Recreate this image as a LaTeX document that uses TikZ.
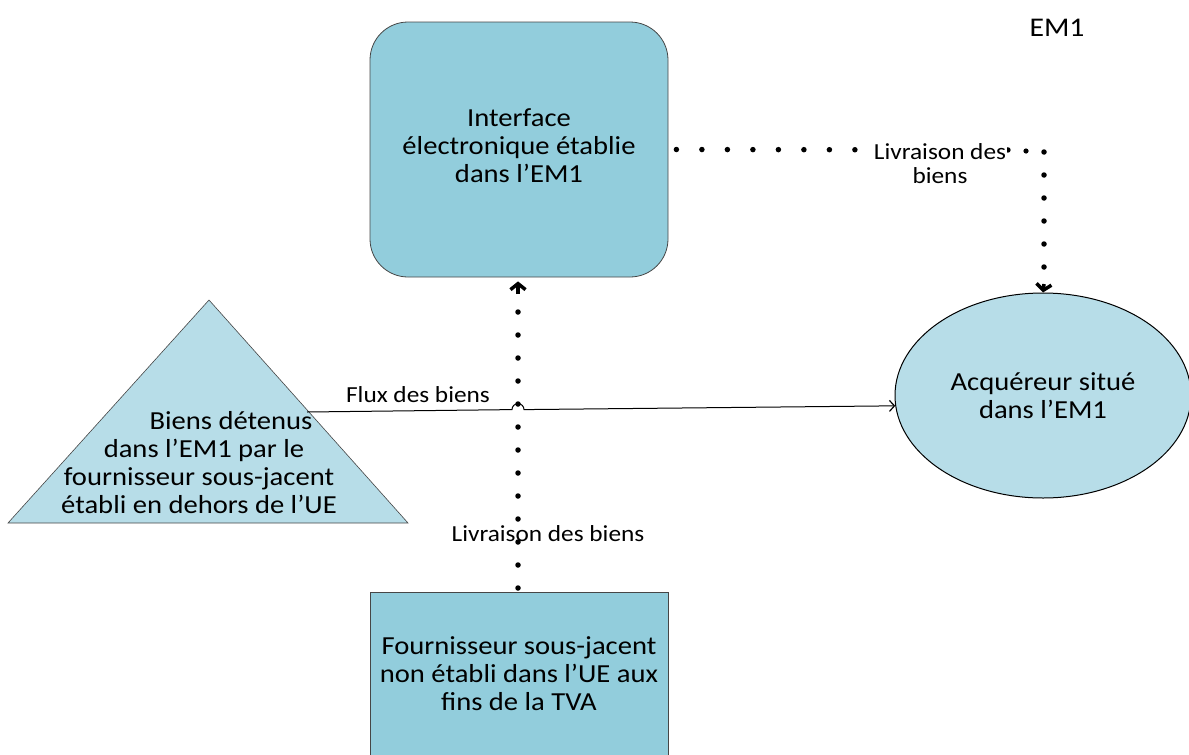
\documentclass[tikz,border=0pt]{standalone}
\usepackage{fontspec}
\setmainfont{Carlito}[FakeStretch=1.1]
\usetikzlibrary{arrows.meta,shapes.geometric}
\definecolor{boxblue}{RGB}{146,205,220}
\definecolor{lightblue}{RGB}{183,221,232}
\definecolor{edgegrey}{RGB}{70,70,70}
\begin{document}
\begin{tikzpicture}[x=1pt,y=-1pt,
  bigtext/.style={font=\fontsize{26}{28}\selectfont, align=center, text=black},
  smalltext/.style={font=\fontsize{23}{24}\selectfont, align=center, text=black},
  dotline/.style={line width=5.5pt, line cap=round, dash pattern=on 0pt off 25.5pt},
  vdotline/.style={line width=5.5pt, line cap=round, dash pattern=on 0pt off 23pt},
  barb/.style={line width=3.5pt, -{Straight Barb[length=6pt,width=15pt]}},
]
\useasboundingbox (0,0) rectangle (1189,755);

% top rounded box
\node[draw=edgegrey, line width=0.8pt, fill=boxblue, rounded corners=38pt,
      minimum width=298pt, minimum height=255pt, inner sep=0pt] (iface) at (519,149.5) {};
\node[bigtext] (ifacetxt) at (519,146) {Interface\\électronique établie\\dans l’EM1};

% bottom box
\node[draw=edgegrey, line width=0.8pt, fill=boxblue,
      minimum width=298pt, minimum height=200pt, inner sep=0pt, anchor=north] (supp) at (519,592) {};
\node[bigtext] (supptxt) at (519,674) {Fournisseur sous-jacent\\non établi dans l’UE aux\\fins de la TVA};

% triangle
\coordinate (tA) at (209,300);
\coordinate (tB) at (8,523);
\coordinate (tC) at (408,523);
\draw[draw=edgegrey, line width=0.6pt, fill=lightblue] (tA) -- (tB) -- (tC) -- cycle;
\node[bigtext] (tritxt) at (199,463) {\hspace*{64pt}Biens détenus\\\hspace*{10pt}dans l’EM1 par le\\fournisseur sous-jacent\\établi en dehors de l’UE};
\coordinate (fluxstart) at (307,412);

% ellipse
\node[draw=black, line width=1pt, fill=lightblue, ellipse, minimum width=296pt, minimum height=205pt, inner sep=0pt] (acq) at (1043,395.5) {};
\node[bigtext] (acqtxt) at (1043,396) {Acquéreur situé\\dans l’EM1};

% EM1 label
\node[font=\fontsize{27}{28}\selectfont] (em) at (1057,28) {EM1};

% flux arrow with hop
\coordinate (hopL) at (512,409.6);
\draw[line width=1pt, -{Straight Barb[length=5pt,width=11pt,line width=1.2pt]}]
  (fluxstart) -- (hopL) arc[start angle=180, end angle=0, radius=6pt] -- (acq.184);
\node[smalltext, anchor=south] (fluxlbl) at (418,406) {Flux des biens};

% dotted connector top box -> acquirer
\coordinate (corner) at (1044,152);
\draw[dotline] (iface.east) ++(8pt,0) -- (1030,150);
\node[smalltext, fill=white, inner sep=1pt] (liv1) at (940,164) {Livraison des\\biens};
\fill (1026,151) circle (2.6pt);
\draw[vdotline] (corner) -- ++(0,126);
\draw[barb] (1044,284) -- (acq.north);

% dotted connector supplier -> interface
\coordinate (vbot) at (518,588);
\draw[vdotline] (vbot) -- (518,300);
\draw[barb] (518,294) -- ([yshift=-4pt]iface.south -| vbot);
\node[smalltext] (liv2) at (548,534) {Livraison des biens};
\end{tikzpicture}
\end{document}
